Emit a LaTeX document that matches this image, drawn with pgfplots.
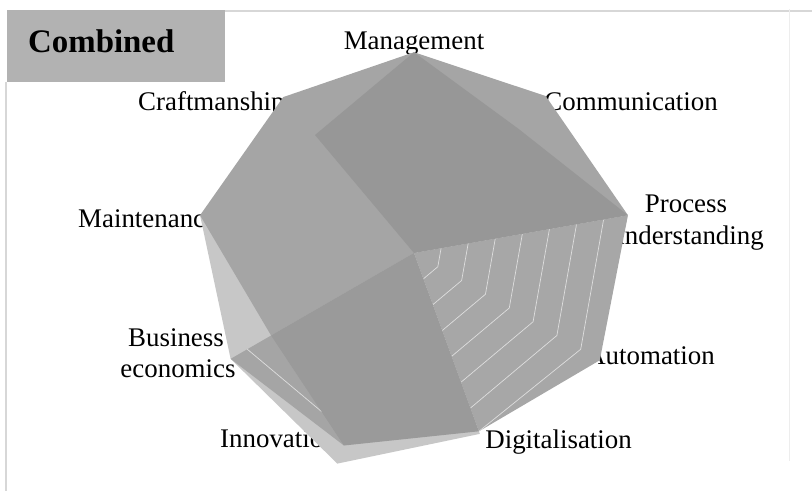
\documentclass[border=0pt]{standalone}
\usepackage{pgfplots}
\pgfplotsset{compat=1.18}
\usepgfplotslibrary{polar}
\usepackage{fontspec}
\setmainfont{Liberation Serif}
\definecolor{lightg}{RGB}{199,199,199}
\definecolor{medg}{RGB}{165,165,165}
\definecolor{medg2}{RGB}{167,167,167}
\definecolor{darkg}{RGB}{151,151,151}
\definecolor{darkg2}{RGB}{154,154,154}
\definecolor{boxg}{RGB}{178,178,178}
\definecolor{frameg}{RGB}{215,215,215}
\definecolor{gridg}{RGB}{222,222,222}
\begin{document}
\begin{tikzpicture}[x=1bp,y=1bp]
\useasboundingbox (0,0) rectangle (812,491);
% frame and title box
\draw[frameg,line width=1.2bp] (225,480) -- (812,480);
\draw[frameg,line width=1.5bp] (6,409) -- (6,0);
\draw[black!7,line width=1bp] (789,482) -- (789,30);
\fill[boxg] (7,409) rectangle (225,481);
\node[anchor=base west,font=\fontsize{33}{38}\selectfont\bfseries,inner sep=0pt] at (28,438) {Combined};
% category labels (drawn beneath the fills)
\begin{scope}[font=\fontsize{27}{32}\selectfont,inner sep=0pt]
\node[anchor=base] at (414,441) {Management};
\node[anchor=base east] at (718,380) {Communication};
\node[anchor=base] at (686,278) {Process};
\node[anchor=base east] at (764,246) {understanding};
\node[anchor=base east] at (715,126) {Automation};
\node[anchor=base east] at (632,42) {Digitalisation};
\node[anchor=base west] at (220,43) {Innovation};
\node[anchor=base west] at (128,144) {Business};
\node[anchor=base] at (178,113) {economics};
\node[anchor=base west] at (78,263) {Maintenance};
\node[anchor=base west] at (138,380) {Craftmanship};
\end{scope}
\begin{polaraxis}[at={(414bp,238bp)},anchor=center,width=440bp,height=440bp,scale only axis,
  xmin=0,xmax=360,ymin=0,ymax=8,hide axis,clip=false]
% light layer
\addplot[draw=none,fill=lightg] coordinates {(90,0) (50,0) (10,0) (330,0) (290,7.0) (250,8.15) (210,7.7) (170,7.9) (130,0) (90,0)};
% outer medium layer (top and left)
\addplot[draw=none,fill=medg] coordinates {(90,7.3) (50,7.45) (10,7.9) (330,0) (290,0) (250,0) (210,6.0) (170,7.9) (130,7.4) (90,7.3)};
% lower-left strip
\addplot[draw=none,fill=medg] coordinates {(90,0) (50,0) (10,0) (330,0) (290,0) (250,7.45) (210,7.7) (170,0) (130,0) (90,0)};
% lower-right sector
\addplot[draw=none,fill=medg2] coordinates {(90,0) (50,0) (10,7.9) (330,7.8) (290,6.9) (250,0) (210,0) (170,0) (130,0) (90,0)};
% grid rings visible in the lower sectors
\addplot[gridg,line width=0.7bp] coordinates {(10,1) (330,1) (290,1)};
\addplot[gridg,line width=0.7bp] coordinates {(10,2) (330,2) (290,2)};
\addplot[gridg,line width=0.7bp] coordinates {(10,3) (330,3) (290,3)};
\addplot[gridg,line width=0.7bp] coordinates {(10,4) (330,4) (290,4)};
\addplot[gridg,line width=0.7bp] coordinates {(10,5) (330,5) (290,5)};
\addplot[gridg,line width=0.7bp] coordinates {(10,6) (330,6) (290,6)};
\addplot[gridg,line width=0.7bp] coordinates {(10,7) (330,7) (290,6.9)};
\addplot[gridg,line width=0.7bp] coordinates {(210,7) (250,7)};
% top dark layer
\addplot[draw=none,fill=darkg] coordinates {(90,7.3) (50,5.9) (10,7.9) (330,0) (290,0) (250,0) (210,0) (170,0) (130,5.6) (90,7.3)};
% bottom dark layer
\addplot[draw=none,fill=darkg2] coordinates {(90,0) (50,0) (10,0) (330,0) (290,6.9) (250,7.45) (210,6.0) (170,0) (130,0) (90,0)};
\end{polaraxis}
\end{tikzpicture}
\end{document}
